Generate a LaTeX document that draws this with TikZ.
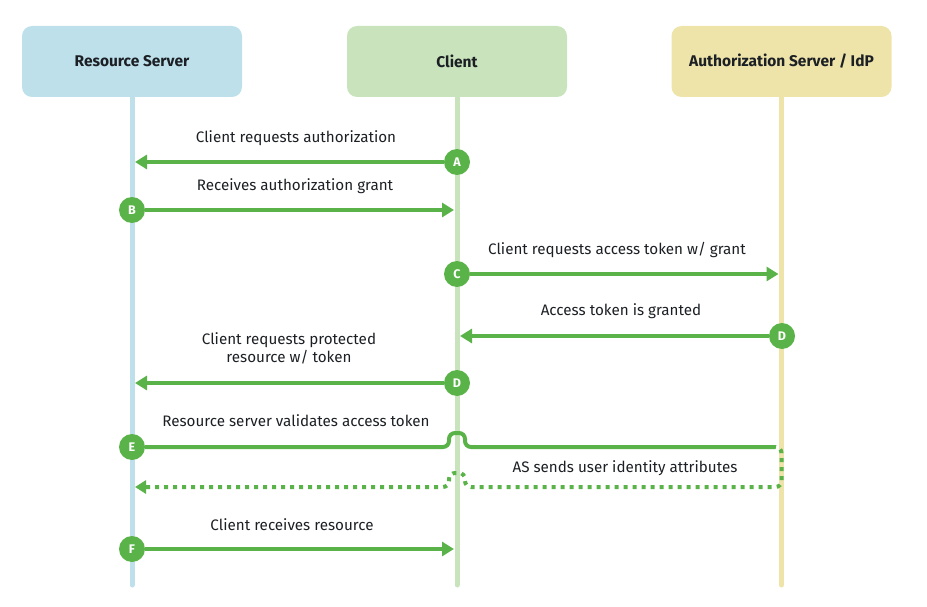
\documentclass[tikz,border=0pt]{standalone}
\usepackage{fontspec}
\setmainfont{Fira Sans}
\usepackage{tikz}
\usetikzlibrary{arrows.meta,positioning,calc}

\definecolor{rsblue}{HTML}{BDE0EB}
\definecolor{clgreen}{HTML}{C9E4BC}
\definecolor{asyellow}{HTML}{EEE4AA}
\definecolor{msggreen}{HTML}{5AB348}
\definecolor{txtdark}{HTML}{1C2024}

\begin{document}
\begin{tikzpicture}[x=1pt, y=-1pt]
	\tikzstyle{head} = [rounded corners=10pt, minimum width=220pt, minimum height=71pt, inner sep=0pt, text=txtdark, font=\bfseries\fontsize{15.5}{17}\selectfont]
	\tikzstyle{life} = [line width=5pt, line cap=round]
	\tikzstyle{stepmark} = [circle, fill=msggreen, minimum size=26pt, inner sep=0pt, text=white, font=\bfseries\fontsize{12.5}{12.5}\selectfont]
	\tikzstyle{msg} = [draw=msggreen, line width=4pt, shorten >=3pt, -{Triangle[length=12pt, width=14pt]}]
	\tikzstyle{ret} = [draw=msggreen, line width=4pt, dash pattern=on 4pt off 5pt, rounded corners=6pt]
	\tikzstyle{lbl} = [text=txtdark, align=center, font=\fontsize{15.2}{18}\selectfont]

	\useasboundingbox (0,0) rectangle (927,607);

	% headers
	\node[head, fill=rsblue](rs) at (132,61.5){Resource Server};
	\node[head, fill=clgreen](cl) at (457,61.5){Client};
	\node[head, fill=asyellow](as) at (781.5,61.5){Authorization Server / IdP};

	% lifelines
	\coordinate (rsend) at (132,585);
	\draw[life, rsblue] (rs.south) -- (rsend);
	\draw[life, clgreen] (cl.south) -- (cl |- rsend);
	\draw[life, asyellow] (as.south) -- (as |- rsend);

	% steps
	\node[stepmark](a) at (457,162){A};
	\node[stepmark](b) at (132,210){B};
	\node[stepmark](c) at (457,274){C};
	\node[stepmark](d1) at (782,336){D};
	\node[stepmark](d2) at (457,383){D};
	\node[stepmark](e) at (132,447){E};
	\node[stepmark](f) at (132,549){F};

	\coordinate (eend) at (772,447);
	\coordinate (g) at (132,487);

	\draw[msg] (a) -- (a -| rs);
	\draw[msg] (b) -- (b -| cl);
	\draw[msg] (c) -- (c -| as);
	\draw[msg] (d1) -- (d1 -| cl);
	\draw[msg] (d2) -- (d2 -| rs);
	\draw[draw=msggreen, line width=4pt, rounded corners=6pt] (e) -- ($(e -| cl)+(-8,0)$) -- ++(0,-14) -- ++(16,0) -- ++(0,14) -- (eend);
	\draw[ret, shorten >=3pt, -{Triangle[length=11pt, width=13pt]}] (eend) -- (e -| as) -- (g -| as) -- ($(g -| cl)+(8,0)$) -- ++(0,-14) -- ++(-16,0) -- ++(0,14) -- (g);
	\draw[msg] (f) -- (f -| cl);

	% labels
	\node[lbl](la) at (296,138){Client requests authorization};
	\node[lbl](lb) at (295,186){Receives authorization grant};
	\node[lbl](lc) at (617,250){Client requests access token w/ grant};
	\node[lbl](ld1) at (621,311){Access token is granted};
	\node[lbl](ld2) at (289,348){Client requests protected\\resource w/ token};
	\node[lbl](le) at (296,421){Resource server validates access token};
	\node[lbl](lg) at (625,468){AS sends user identity attributes};
	\node[lbl](lf) at (292,525){Client receives resource};
\end{tikzpicture}
\end{document}
